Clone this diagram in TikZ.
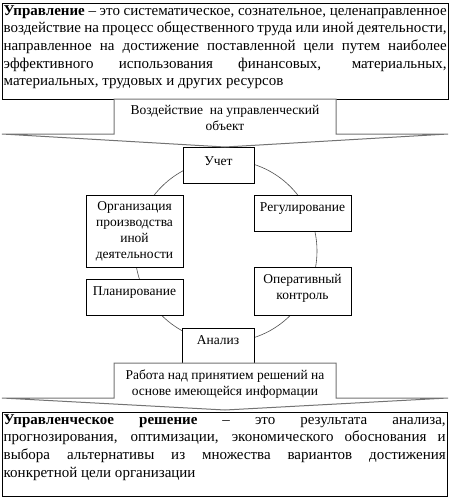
\documentclass[tikz,border=0pt]{standalone}
\usepackage{fontspec}
\setmainfont{Liberation Serif}
\begin{document}
\begin{tikzpicture}[x=1pt,y=-1pt,
  every node/.style={font=\fontsize{13.5}{16}\selectfont},
  deffont/.style={font=\fontsize{15}{17.7}\selectfont},
  box/.style={draw=black, line width=0.8pt, fill=white, inner sep=0pt},
  txt/.style={align=center, inner sep=0pt},
  callout/.style={draw=black!55, line width=1pt, fill=white, line join=miter},
  circ/.style={draw=black!70, line width=0.6pt}]
\useasboundingbox (0,0) rectangle (450,498);
% top definition box
\node (upr) [box, anchor=north west, minimum width=446pt, minimum height=96pt] at (2,3) {};
\node (tupr) [deffont, anchor=north west, text width=443pt, align=justify, inner sep=0pt] at (3.5,5)
  {\textbf{Управление} – это систематическое, сознательное, целенаправленное\linebreak
   воздействие на процесс общественного труда или иной деятельности,\linebreak
   направленное на достижение поставленной цели путем наиболее\linebreak
   эффективного использования финансовых, материальных,\linebreak
   материальных, трудовых и других ресурсов};
% cycle
\draw[circ] (226,251) circle (91pt);
\node (uchet) [box, minimum width=71pt, minimum height=36pt] at (218.5,165) {};
\node (reg) [box, minimum width=97pt, minimum height=36pt] at (302.5,213) {};
\node (org) [box, minimum width=97pt, minimum height=72pt] at (134.5,231) {};
\node (plan) [box, minimum width=97pt, minimum height=36pt] at (134.5,297) {};
\node (oper) [box, minimum width=97pt, minimum height=48pt] at (302.5,291) {};
\node (anal) [box, minimum width=72pt, minimum height=35pt] at (218,345.5) {};
\node (tuchet) [txt] at ([yshift=4pt]uchet.center) {Учет};
\node (treg) [txt] at ([yshift=4pt]reg.center) {Регулирование};
\node (torg) [txt] at (org.center) {Организация\\производства\\иной\\деятельности};
\node (tplan) [txt] at ([yshift=4pt]plan.center) {Планирование};
\node (toper) [txt] at ([yshift=3pt]oper.center) {Оперативный\\контроль};
\node (tanal) [txt] at ([yshift=5pt]anal.center) {Анализ};
% callouts
\draw[callout] (114,99) -- (336,99) -- (336,134) -- (448,134) -- (225,147)
  -- (2,134) -- (114,134) -- cycle;
\node (tvozd) [txt] at (225,118) {Воздействие\ \ на управленческий\\объект};
\draw[callout] (114,363) -- (336,363) -- (336,398) -- (448,398) -- (225,410)
  -- (2,398) -- (114,398) -- cycle;
\node (trab) [txt] at (225,384) {Работа над принятием решений на\\основе имеющейся информации};
% bottom definition box
\node (resh) [box, anchor=north west, minimum width=445pt, minimum height=84pt] at (2,412) {};
\node (tresh) [deffont, anchor=north west, text width=442pt, align=justify, inner sep=0pt] at (3.5,414)
  {\textbf{Управленческое решение} – это результата анализа,\linebreak
   прогнозирования, оптимизации, экономического обоснования и\linebreak
   выбора альтернативы из множества вариантов достижения\linebreak
   конкретной цели организации};
\end{tikzpicture}
\end{document}
